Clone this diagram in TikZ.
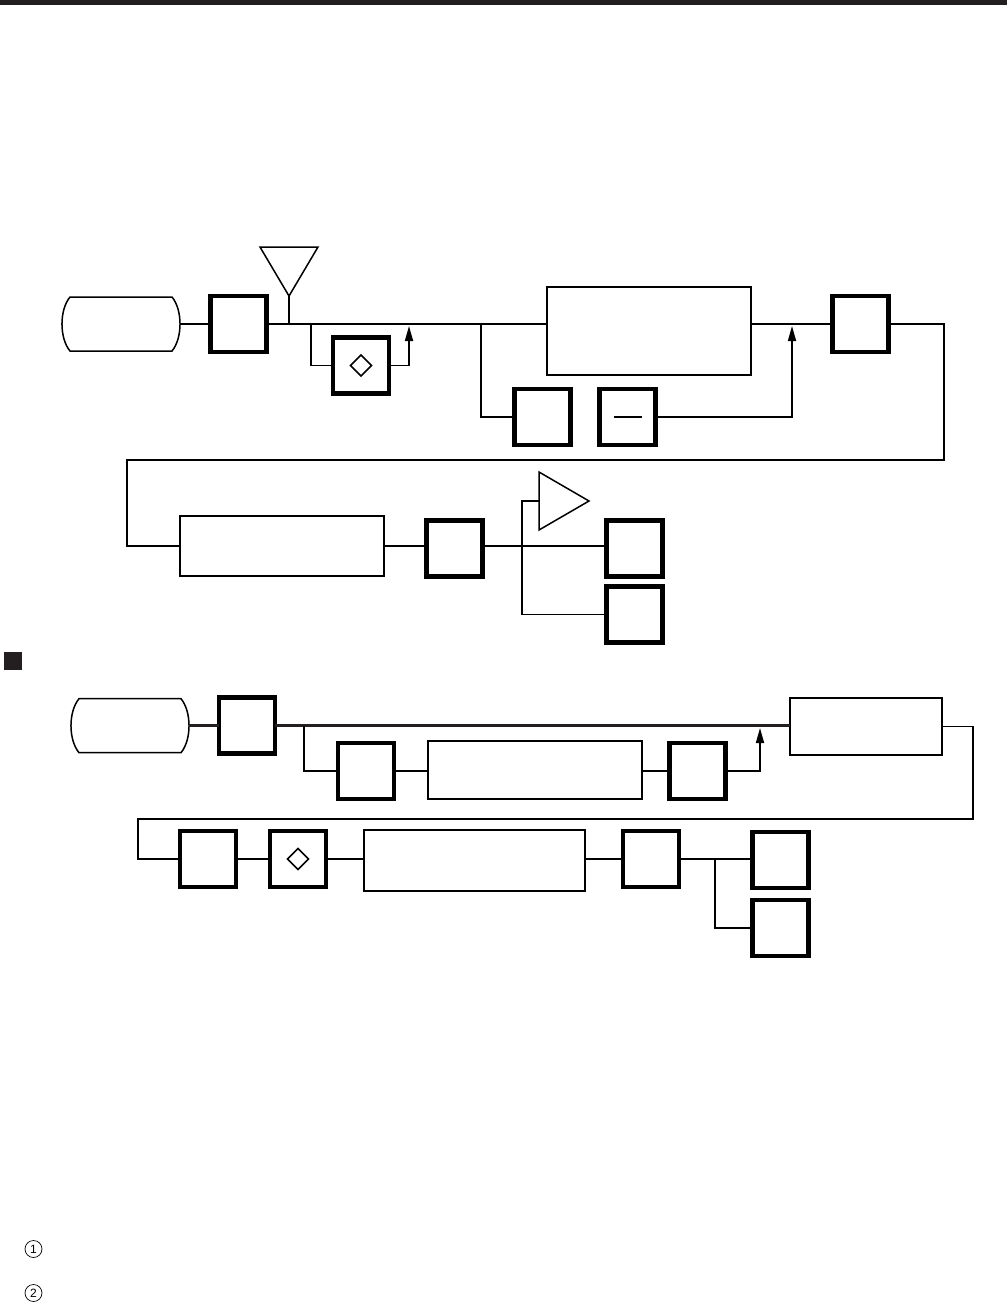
\documentclass[tikz,border=0pt]{standalone}
\usepackage{fontspec}
\setmainfont{Liberation Sans}
\usetikzlibrary{arrows.meta,calc}
\definecolor{ink}{HTML}{231F20}
\tikzset{
  x=1pt,y=-1pt,
  thickbox/.style={draw=black,line width=4.5pt,minimum width=56pt,minimum height=56pt,inner sep=0pt,outer sep=0pt},
  thinbox/.style={draw=black,line width=1.7pt,inner sep=0pt,outer sep=0pt},
  capanchor/.style={minimum width=118pt,minimum height=54pt,inner sep=0pt,outer sep=0pt},
  capline/.style={line width=1.5pt,black},
  wire/.style={line width=1.7pt,black,line join=miter},
  heavywire/.style={line width=3pt,ink},
  riser/.style={wire,-{Triangle[length=15pt,width=8pt]}},
  symbol/.style={line width=1.5pt,black,line join=miter},
  numcircle/.style={circle,draw=black,line width=.7pt,minimum size=17pt,inner sep=0pt,font=\fontsize{12}{12}\selectfont}
}
\newcommand{\capoutline}[1]{%
  \draw[capline] ($(#1.north west)+(8,0)$) -- ($(#1.north east)+(-8,0)$)
    .. controls ($(#1.east)+(2.7,-14)$) and ($(#1.east)+(2.7,14)$) .. ($(#1.south east)+(-8,0)$)
    -- ($(#1.south west)+(8,0)$)
    .. controls ($(#1.west)+(-2.7,14)$) and ($(#1.west)+(-2.7,-14)$) .. cycle;}
\newcommand{\diamondmark}[1]{%
  \draw[symbol] ($(#1.center)+(-10.5,0)$) -- ($(#1.center)+(0,-10.5)$) -- ($(#1.center)+(10.5,0)$) -- ($(#1.center)+(0,10.5)$) -- cycle;}
\begin{document}
\begin{tikzpicture}
\useasboundingbox[fill=white] (0,0) rectangle (1007,1302);
\fill[ink] (0,0) rectangle (1007,4.5);
\fill[ink] (4,652) rectangle (22,670);

% upper chain
\node[capanchor] (capA) at (121,324) {};
\capoutline{capA}
\node[thickbox] (a1) at (238.5,324) {};
\coordinate (antTip) at (289,296);
\draw[symbol] (260,247) -- (318,247) -- (antTip) -- cycle;
\coordinate (antFoot) at (289,324);
\draw[wire] (antTip) -- (antFoot);
\node[thickbox] (a2) at (361,365.5) {};
\diamondmark{a2}
\node[thinbox,minimum width=204pt,minimum height=88pt] (a3) at (649,331) {};
\node[thickbox] (a4) at (542.5,417) {};
\node[thickbox] (a5) at (627.5,417) {};
\draw[line width=1.7pt] (614,417) -- (642,417);
\node[thickbox] (a6) at (860.5,324) {};
\node[thinbox,minimum width=204pt,minimum height=60pt] (a7) at (282,546) {};
\node[thickbox] (a8) at (454.5,548.5) {};
\node[thickbox] (a9) at (634.5,548.5) {};
\node[thickbox] (a10) at (634.5,614.5) {};
\coordinate (spkA) at (539,472);
\coordinate (spkB) at (589,501);
\coordinate (spkC) at (539,530);
\coordinate (spkIn) at (539,501);
\draw[symbol] (spkA) -- (spkB) -- (spkC) -- cycle;

\coordinate (j1) at (311,324);
\coordinate (j2) at (481,324);
\coordinate (m1) at (409,326);
\coordinate (m2) at (792,326);
\draw[wire] (capA.east) -- (a1.west);
\draw[wire] (a1.east) -- (j2) -- (j2 -| a3.west);
\draw[wire] (j1) |- (a2.west);
\draw[riser] (a2.east) -| (m1);
\draw[wire] (j2) |- (a4.west);
\draw[riser] (a5.east) -| (m2);
\draw[wire] (j2 -| a3.east) -- (a6.west);
\draw[wire] (a6.east) -- (944,324) -- (944,460) -- (127,460) -- (127,546) -- (a7.west);
\draw[wire] (a7.east) -- (a8.west |- a7.east);
\draw[wire] (a8.east |- a7.east) -- (a9.west |- a7.east);
\draw[wire] (spkIn) -- (522,501) -- (522,614.5) -- (a10.west);

% lower chain
\node[capanchor] (capB) at (130,725.7) {};
\capoutline{capB}
\node[thickbox] (b1) at (247,725.7) {};
\node[thinbox,minimum width=152pt,minimum height=57pt] (b2) at (866,726.5) {};
\node[thickbox] (b3) at (366,771) {};
\node[thinbox,minimum width=214pt,minimum height=58pt] (b4) at (535,770) {};
\node[thickbox] (b5) at (697.5,771) {};
\node[thickbox] (b6) at (208,859) {};
\node[thickbox] (b7) at (298,859) {};
\diamondmark{b7}
\node[thinbox,minimum width=221pt,minimum height=61pt] (b8) at (474.5,860.5) {};
\node[thickbox] (b9) at (651,859) {};
\node[thickbox] (b10) at (780.5,860) {};
\node[thickbox] (b11) at (780.5,928) {};

\coordinate (j3) at (304,726);
\coordinate (j4) at (715,860);
\coordinate (m3) at (760,728);
\draw[heavywire] (capB.east) -- (b1.west);
\draw[heavywire] (b1.east) -- (b1.east -| b2.west);
\draw[wire] (j3) |- (b3.west);
\draw[wire] (b3.east) -- (b4.west |- b3.east);
\draw[wire] (b4.east |- b5.west) -- (b5.west);
\draw[riser] (b5.east) -| (m3);
\draw[wire] (b2.east) -- (973,726.5) -- (973,819) -- (138,819) -- (138,859) -- (b6.west);
\draw[wire] (b6.east) -- (b7.west);
\draw[wire] (b7.east) -- (b7.east -| b8.west);
\draw[wire] (b8.east |- b9.west) -- (b9.west);
\draw[wire] (b9.east) -- (b10.west |- b9.east);
\draw[wire] (j4) |- (b11.west);

% numbered marks
\node[numcircle] (n1) at (33.5,1249) {1};
\node[numcircle] (n2) at (33.5,1293) {2};
\end{tikzpicture}
\end{document}
